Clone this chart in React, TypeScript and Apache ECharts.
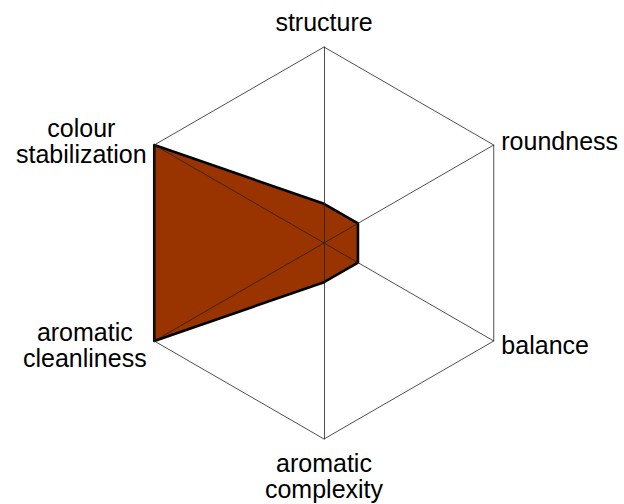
import { useEffect, useRef } from "react";
import * as echarts from "echarts";

const indicatorNames = [
  "structure",
  "colour\nstabilization",
  "aromatic\ncleanliness",
  "aromatic\ncomplexity",
  "balance",
  "roundness",
];
const indicatorMax = [5, 5, 5, 5, 5, 5];
const seriesValues = [1, 5, 5, 1, 1, 1];
const seriesName = "profile";

const FONT = "'Liberation Sans', Arial, sans-serif";
const FS = 25;
const LH = 26.5;
// per-label line heights (style only): top label sits a bit higher, bottom label a bit lower
const lineHeightsByLabel: Record<string, number[]> = {
  structure: [34],
  "aromatic\ncomplexity": [31, 22],
};

function measure(text: string): number {
  const ctx = document.createElement("canvas").getContext("2d");
  if (!ctx) return text.length * FS * 0.5;
  ctx.font = `${FS}px ${FONT}`;
  return ctx.measureText(text).width;
}

export default function App() {
  const ref = useRef<HTMLDivElement>(null);
  useEffect(() => {
    if (!ref.current) return;
    const chart = echarts.init(ref.current, undefined, { renderer: "svg" });
    const rich: Record<string, any> = {};
    indicatorNames.forEach((n, i) => {
      const lines = n.split("\n");
      const w = Math.ceil(Math.max(...lines.map(measure))) + 1;
      const lhs = lineHeightsByLabel[n] || [];
      lines.forEach((_, j) => {
        rich[`n${i}_${j}`] = {
          width: w,
          align: "center",
          fontSize: FS,
          fontFamily: FONT,
          lineHeight: lhs[j] ?? LH,
          color: "#000",
        };
      });
    });
    chart.setOption({
      animation: false,
      backgroundColor: "#fff",
      radar: {
        z: 3,
        center: [324, 243],
        radius: 196,
        startAngle: 90,
        splitNumber: 1,
        shape: "polygon",
        axisNameGap: 8,
        indicator: indicatorNames.map((n, i) => ({ name: n, min: 0, max: indicatorMax[i] })),
        axisName: {
          color: "#000",
          fontSize: FS,
          fontFamily: FONT,
          lineHeight: LH,
          rich,
          formatter: (name: string) => {
            const i = indicatorNames.indexOf(name);
            return name
              .split("\n")
              .map((l, j) => `{n${i}_${j}|${l}}`)
              .join("\n");
          },
        },
        axisLine: { show: true, lineStyle: { color: "#222", width: 0.8 } },
        splitLine: { show: true, lineStyle: { color: "#222", width: 0.8 } },
        splitArea: { show: false },
        axisTick: { show: false },
        axisLabel: { show: false },
      },
      series: [
        {
          type: "radar",
          z: 1,
          symbol: "none",
          silent: true,
          lineStyle: { color: "#993300", width: 0 },
          areaStyle: { color: "#993300", opacity: 1 },
          data: [{ name: seriesName, value: seriesValues }],
        },
        {
          type: "radar",
          z: 2,
          symbol: "none",
          silent: true,
          lineStyle: { color: "#000", width: 2.6 },
          data: [{ name: seriesName, value: seriesValues }],
        },
      ],
    });
    return () => chart.dispose();
  }, []);
  return (
    <div
      ref={ref}
      style={{ position: "absolute", left: 0, top: 0, width: 624, height: 504 }}
    />
  );
}
